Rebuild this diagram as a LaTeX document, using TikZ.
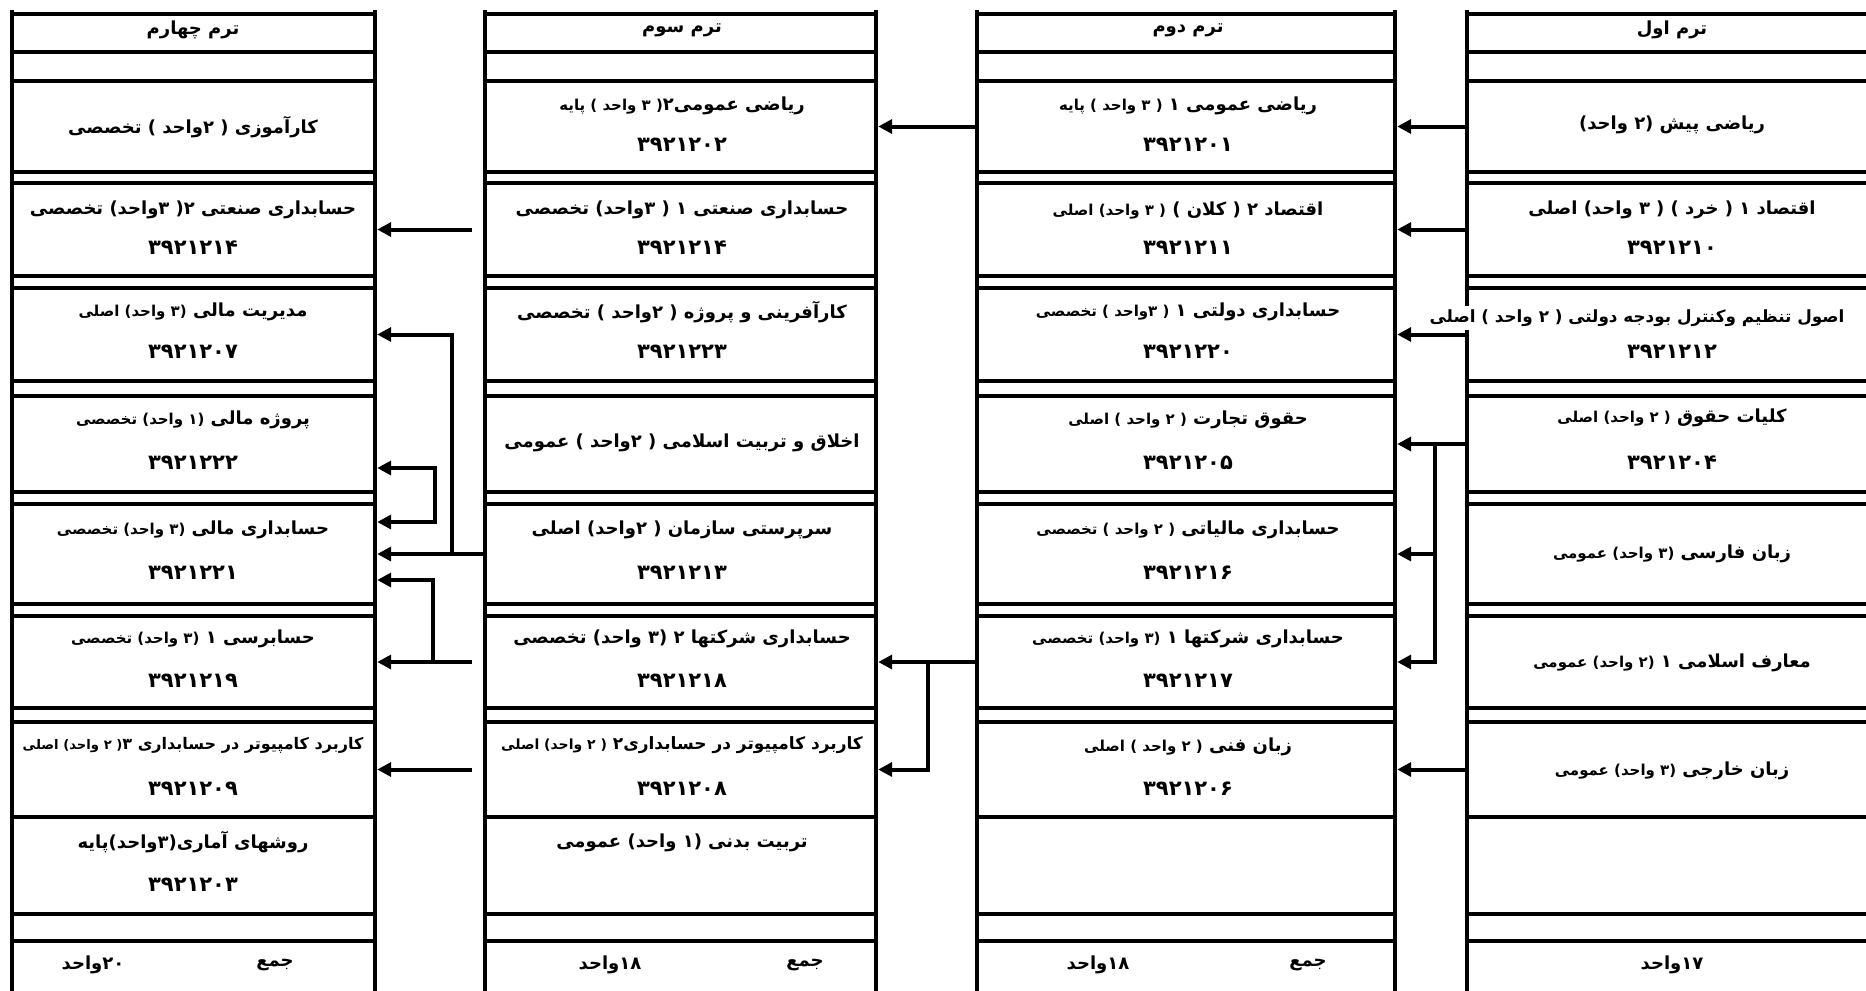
\documentclass[tikz,border=0pt]{standalone}
\usepackage{fontspec}
\usetikzlibrary{arrows.meta,fit,calc}
\newfontfamily\fa[Script=Arabic]{DejaVu Sans}
\TeXXeTstate=1
\newcommand\rl[1]{\beginR #1\endR}
\newcommand\smf[1]{{\fontsize{7.5}{9}\selectfont #1}}
\newcommand\smg[1]{{\fontsize{7}{9}\selectfont #1}}
\newcommand\smh[1]{{\fontsize{6.6}{8}\selectfont #1}}
\tikzset{
  grid/.style={line width=2.3pt},
  arr/.style={line width=2pt,-{Triangle[length=7pt,width=7pt]},shorten >=1.1pt},
  arrb/.style={line width=2pt,{Triangle[length=7pt,width=7pt]}-{Triangle[length=7pt,width=7pt]},shorten >=1.1pt,shorten <=1.1pt},
  cell/.style={inner sep=0pt,outer sep=0pt},
  txt/.style={inner sep=0pt,font={\fa\bfseries\fontsize{9}{11}\selectfont}},
  txs/.style={inner sep=0pt,font={\fa\bfseries\fontsize{8.5}{10}\selectfont}},
  txu/.style={inner sep=0pt,font={\fa\bfseries\fontsize{8}{10}\selectfont}},
  hd/.style={inner sep=0pt,font={\fa\bfseries\fontsize{9}{11}\selectfont}},
  num/.style={inner sep=0pt,font={\fa\bfseries\fontsize{10.5}{12}\selectfont}},
}
\begin{document}
\begin{tikzpicture}[x=0.5pt,y=-0.5pt]
\useasboundingbox (0,0) rectangle (1866,990);
\fill[white] (0,0) rectangle (1866,990);
\clip (0,0) rectangle (1866,990);
% table lines
\foreach \L/\R in {12/375,485/876,977/1395,1467/1877} {
  \foreach \y in {14,52,81,172,183,276,288,381,396,492,504,604,616,708,722,817,914,941}
    \draw[grid] (\L,\y) -- (\R,\y);
  \draw[grid] (\L,10) -- (\L,995);
  \draw[grid] (\R,10) -- (\R,995);
}
% cells
\foreach \c/\L/\R in {d/12/375,c/485/876,b/977/1395,a/1467/1877} {
  \foreach \r/\T/\B in {1/81/172,2/183/276,3/288/381,4/396/492,5/504/604,6/616/708,7/722/817,8/817/914}
    \node[cell,fit={(\L,\T) (\R,\B)}] (\c\r) {};
}
% headers
\node[hd] (dh) at (193,30) {\rl{ترم چهارم}};
\node[hd] (ch) at (682,30) {\rl{ترم سوم}};
\node[hd] (bh) at (1188,30) {\rl{ترم دوم}};
\node[hd] (ah) at (1672,30) {\rl{ترم اول}};
% column 4
\node[txt] (d1t) at (193,127) {\rl{کارآموزی ( ۲واحد ) تخصصی}};
\node[txt] (d2t) at (193,210) {\rl{حسابداری صنعتی ۲( ۳واحد) تخصصی}};
\node[num] (d2n) at (193,248) {\rl{۳۹۲۱۲۱۴}};
\node[txt] (d3t) at (193,312) {\rl{مدیریت مالی \smf{(۳ واحد) اصلی}}};
\node[num] (d3n) at (193,352) {\rl{۳۹۲۱۲۰۷}};
\node[txt] (d4t) at (193,420) {\rl{پروژه مالی \smf{(۱ واحد) تخصصی}}};
\node[num] (d4n) at (193,463) {\rl{۳۹۲۱۲۲۲}};
\node[txt] (d5t) at (193,530) {\rl{حسابداری مالی \smf{(۳ واحد) تخصصی}}};
\node[num] (d5n) at (193,573) {\rl{۳۹۲۱۲۲۱}};
\node[txt] (d6t) at (193,639) {\rl{حسابرسی ۱ \smf{(۳ واحد) تخصصی}}};
\node[num] (d6n) at (193,681) {\rl{۳۹۲۱۲۱۹}};
\node[txu] (d7t) at (193,745) {\rl{کاربرد کامپیوتر در حسابداری ۳\smh{( ۲ واحد) اصلی}}};
\node[num] (d7n) at (193,789) {\rl{۳۹۲۱۲۰۹}};
\node[txt] (d8t) at (193,842) {\rl{روشهای آماری(۳واحد)پایه}};
\node[num] (d8n) at (193,885) {\rl{۳۹۲۱۲۰۳}};
\node[txt] (dsa) at (275,965) {\rl{جمع}};
\node[txt] (dsb) at (93,965) {\rl{۲۰واحد}};
% column 3
\node[txt] (c1t) at (682,106) {\rl{ریاضی عمومی۲\smf{( ۳ واحد ) پایه}}};
\node[num] (c1n) at (682,145) {\rl{۳۹۲۱۲۰۲}};
\node[txt] (c2t) at (682,210) {\rl{حسابداری صنعتی ۱ ( ۳واحد) تخصصی}};
\node[num] (c2n) at (682,248) {\rl{۳۹۲۱۲۱۴}};
\node[txt] (c3t) at (682,312) {\rl{کارآفرینی و پروژه ( ۲واحد ) تخصصی}};
\node[num] (c3n) at (682,352) {\rl{۳۹۲۱۲۲۳}};
\node[txt] (c4t) at (682,443) {\rl{اخلاق و تربیت اسلامی ( ۲واحد ) عمومی}};
\node[txt] (c5t) at (682,530) {\rl{سرپرستی سازمان ( ۲واحد) اصلی}};
\node[num] (c5n) at (682,573) {\rl{۳۹۲۱۲۱۳}};
\node[txt] (c6t) at (682,639) {\rl{حسابداری شرکتها ۲ (۳ واحد) تخصصی}};
\node[num] (c6n) at (682,681) {\rl{۳۹۲۱۲۱۸}};
\node[txs] (c7t) at (682,745) {\rl{کاربرد کامپیوتر در حسابداری۲ \smg{( ۲ واحد) اصلی}}};
\node[num] (c7n) at (682,789) {\rl{۳۹۲۱۲۰۸}};
\node[txt] (c8t) at (682,843) {\rl{تربیت بدنی (۱ واحد) عمومی}};
\node[txt] (csa) at (805,965) {\rl{جمع}};
\node[txt] (csb) at (610,965) {\rl{۱۸واحد}};
% column 2
\node[txt] (b1t) at (1188,106) {\rl{ریاضی عمومی ۱ \smf{( ۳ واحد ) پایه}}};
\node[num] (b1n) at (1188,145) {\rl{۳۹۲۱۲۰۱}};
\node[txt] (b2t) at (1188,210) {\rl{اقتصاد ۲ ( کلان ) \smf{( ۳ واحد) اصلی}}};
\node[num] (b2n) at (1188,248) {\rl{۳۹۲۱۲۱۱}};
\node[txt] (b3t) at (1188,312) {\rl{حسابداری دولتی ۱ \smf{( ۳واحد ) تخصصی}}};
\node[num] (b3n) at (1188,352) {\rl{۳۹۲۱۲۲۰}};
\node[txt] (b4t) at (1188,420) {\rl{حقوق تجارت \smf{( ۲ واحد ) اصلی}}};
\node[num] (b4n) at (1188,463) {\rl{۳۹۲۱۲۰۵}};
\node[txt] (b5t) at (1188,530) {\rl{حسابداری مالیاتی \smf{( ۲ واحد ) تخصصی}}};
\node[num] (b5n) at (1188,573) {\rl{۳۹۲۱۲۱۶}};
\node[txt] (b6t) at (1188,639) {\rl{حسابداری شرکتها ۱ \smf{(۳ واحد) تخصصی}}};
\node[num] (b6n) at (1188,681) {\rl{۳۹۲۱۲۱۷}};
\node[txt] (b7t) at (1188,747) {\rl{زبان فنی \smf{( ۲ واحد ) اصلی}}};
\node[num] (b7n) at (1188,789) {\rl{۳۹۲۱۲۰۶}};
\node[txt] (bsa) at (1308,965) {\rl{جمع}};
\node[txt] (bsb) at (1098,965) {\rl{۱۸واحد}};
% column 1
\node[txt] (a1t) at (1672,125) {\rl{ریاضی پیش (۲ واحد)}};
\node[txt] (a2t) at (1672,210) {\rl{اقتصاد ۱ ( خرد ) ( ۳ واحد) اصلی}};
\node[num] (a2n) at (1672,248) {\rl{۳۹۲۱۲۱۰}};
\node[txt,fill=white,inner ysep=2pt,inner xsep=1pt] (a3t) at (1637,318) {\rl{\fontsize{8.4}{10}\selectfont اصول تنظیم وکنترل بودجه دولتی ( ۲ واحد ) اصلی}};
\node[num] (a3n) at (1672,352) {\rl{۳۹۲۱۲۱۲}};
\node[txt] (a4t) at (1672,418) {\rl{کلیات حقوق \smf{( ۲ واحد) اصلی}}};
\node[num] (a4n) at (1672,463) {\rl{۳۹۲۱۲۰۴}};
\node[txt] (a5t) at (1672,554) {\rl{زبان فارسی \smf{(۳ واحد) عمومی}}};
\node[txt] (a6t) at (1672,663) {\rl{معارف اسلامی ۱ \smf{(۲ واحد) عمومی}}};
\node[txt] (a7t) at (1672,771) {\rl{زبان خارجی \smf{(۳ واحد) عمومی}}};
\node[txt] (asb) at (1672,965) {\rl{۱۷واحد}};
% connectors: term 1 -> term 2
\draw[arr] (a1.west) -- (b1.east);
\draw[arr] (a2.west) -- (b2.east);
\draw[arr] (a3.west) -- (b3.east);
\coordinate (v1t) at (1435,444);
\coordinate (v1b) at (1435,662);
\draw[arr] (a4.west) -- (v1t) -- (v1b) -- (b6.east);
\draw[arr] (v1t) -- (b4.east);
\draw[arr] (v1t |- b5.east) -- (b5.east);
\draw[arr] (a7.west) -- (b7.east);
% term 2 -> term 3
\draw[arr] (b1.west) -- (c1.east);
\coordinate (v2t) at (928,662);
\draw[arr] (b6.west) -- (c6.east);
\draw[arr] (v2t) |- (c7.east);
% term 3 -> term 4
\coordinate (s2) at ($(c2.west)+(-13,0)$);
\draw[arr] (s2) -- (d2.east);
\coordinate (v3b) at (452,554);
\draw[arr] (c5.west) -- (d5.east);
\draw[arr] (v3b) |- (d3.east);
\coordinate (v4t) at (435,468);
\coordinate (v4b) at (435,522);
\draw[arrb] (v4t -| d4.east) -- (v4t) -- (v4b) -- (v4b -| d5.east);
\coordinate (s6) at ($(c6.west)+(-13,0)$);
\draw[arr] (s6) -- (d6.east);
\coordinate (v5b) at (433,662);
\coordinate (v5t) at (433,580);
\draw[arr] (v5b) -- (v5t) -- (v5t -| d5.east);
\coordinate (s7) at ($(c7.west)+(-13,0)$);
\draw[arr] (s7) -- (d7.east);
\end{tikzpicture}
\end{document}
